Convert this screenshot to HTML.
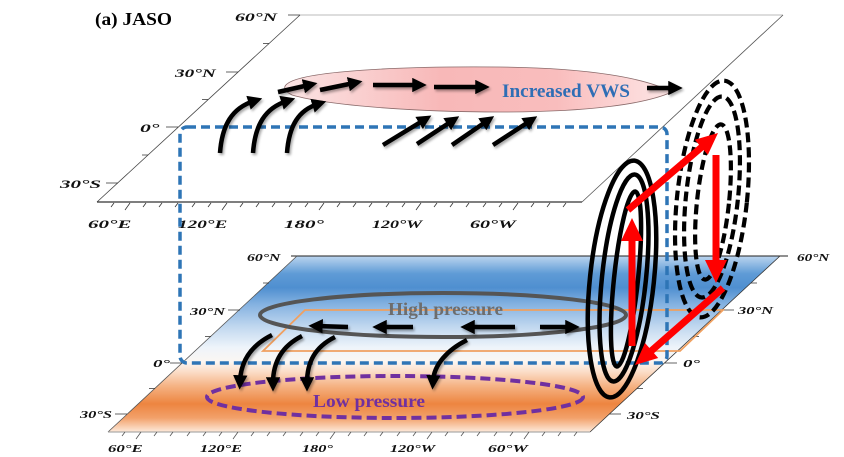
<!DOCTYPE html>
<html><head><meta charset="utf-8"><style>
html,body{margin:0;padding:0;background:#fff;}
svg{display:block;}
.ax{font-family:"Liberation Serif",serif;font-weight:bold;font-style:italic;fill:#111;}
.lb{font-family:"Liberation Serif",serif;font-weight:bold;}
</style></head><body>
<svg width="844" height="457" viewBox="0 0 844 457" xmlns="http://www.w3.org/2000/svg">
<defs>
<linearGradient id="bg" x1="0" y1="256" x2="0" y2="432" gradientUnits="userSpaceOnUse">
<stop offset="0" stop-color="#bcd5ef"/>
<stop offset="0.1" stop-color="#5f9bd6"/>
<stop offset="0.18" stop-color="#4f8fd0"/>
<stop offset="0.27" stop-color="#82b0e0"/>
<stop offset="0.4" stop-color="#c0d7ef"/>
<stop offset="0.52" stop-color="#eef4fa"/>
<stop offset="0.6" stop-color="#fbf6f2"/>
<stop offset="0.66" stop-color="#fbdcc6"/>
<stop offset="0.74" stop-color="#f5b283"/>
<stop offset="0.84" stop-color="#ed8540"/>
<stop offset="0.92" stop-color="#f2a16a"/>
<stop offset="1" stop-color="#fdeadb"/>
</linearGradient>
<linearGradient id="pk" x1="287" y1="0" x2="672" y2="0" gradientUnits="userSpaceOnUse">
<stop offset="0" stop-color="#fbe4e4"/>
<stop offset="0.4" stop-color="#f8b8b8"/>
<stop offset="0.7" stop-color="#f9bdbd"/>
<stop offset="1" stop-color="#fde6e6"/>
</linearGradient>
<filter id="sh" x="-30%" y="-30%" width="160%" height="160%">
<feDropShadow dx="1.5" dy="2" stdDeviation="1.2" flood-color="#000" flood-opacity="0.35"/>
</filter>
<marker id="a" viewBox="0 0 10 10" refX="4" refY="5" markerWidth="3.2" markerHeight="3.2" orient="auto" markerUnits="strokeWidth">
<path d="M0,0 L10,5 L0,10 z" fill="#000"/>
</marker>
</defs>

<!-- title -->
<text x="95" y="25" class="lb" font-size="18" textLength="77" lengthAdjust="spacingAndGlyphs" fill="#000">(a) JASO</text>

<!-- TOP PLANE -->
<polygon points="300,15 783,15 582,202 97,202" fill="#fff"/>
<line x1="300" y1="15" x2="783" y2="15" stroke="#bbb" stroke-width="1"/>
<line x1="97" y1="202" x2="300" y2="15" stroke="#444" stroke-width="0.8"/>
<line x1="582" y1="202" x2="783" y2="15" stroke="#555" stroke-width="0.8"/>
<line x1="97" y1="202" x2="582" y2="202" stroke="#333" stroke-width="1.2"/>
<path d="M111,207L114,203 M143,207L146,203 M159,207L162,203 M175,207L178,203 M192,207L195,203 M208,207L211,203 M240,207L243,203 M256,207L259,203 M272,207L275,203 M289,207L292,203 M305,207L308,203 M337,207L340,203 M353,207L356,203 M369,207L372,203 M386,207L389,203 M402,207L405,203 M434,207L437,203 M450,207L453,203 M466,207L469,203 M483,207L486,203 M499,207L502,203 M531,207L534,203 M547,207L550,203 M563,207L566,203 M125,210L130,203 M222,210L227,203 M319,210L324,203 M416,210L421,203 M513,210L518,203" stroke="#333" stroke-width="0.8" fill="none"/>
<path d="M288,15H300 M226,72H238 M166,127H178 M106,183H118 M263,43.5H269 M202,99.5H208 M142,155H148" stroke="#333" stroke-width="0.8" fill="none"/>

<text class="ax" font-size="12" transform="matrix(1.65 0 0 1 235 21)">60°N</text>
<text class="ax" font-size="12" transform="matrix(1.6 0 0 1 175 77)">30°N</text>
<text class="ax" font-size="12" transform="matrix(1.8 0 0 1 140 132)">0°</text>
<text class="ax" font-size="12" transform="matrix(1.75 0 0 1 60 188)">30°S</text>
<text class="ax" font-size="12" transform="matrix(1.75 0 0 1 88 228)">60°E</text>
<text class="ax" font-size="12" transform="matrix(1.6 0 0 1 178 228)">120°E</text>
<text class="ax" font-size="12" transform="matrix(1.75 0 0 1 284 228)">180°</text>
<text class="ax" font-size="12" transform="matrix(1.5 0 0 1 372 228)">120°W</text>
<text class="ax" font-size="12" transform="matrix(1.67 0 0 1 470 228)">60°W</text>

<!-- pink ellipse -->
<path d="M287,84 C302,71 400,66 500,67 C590,68 645,78 672,92 C645,104 590,112 500,112 C420,112 330,106 292,95 C284,91 283,87 287,84 Z" fill="url(#pk)" stroke="#8a6a6a" stroke-width="0.8"/>
<text x="502" y="97" class="lb" font-size="19" textLength="128" lengthAdjust="spacingAndGlyphs" fill="#2f6eb5">Increased VWS</text>

<!-- BOTTOM PLANE -->
<polygon points="297,256 780,256 590,432 108,432" fill="url(#bg)"/>
<line x1="291" y1="256" x2="788" y2="256" stroke="#222" stroke-width="1"/>
<line x1="108" y1="432" x2="297" y2="256" stroke="#555" stroke-width="0.8"/>
<line x1="590" y1="432" x2="780" y2="256" stroke="#333" stroke-width="0.8"/>
<line x1="108" y1="432" x2="590" y2="432" stroke="#999" stroke-width="1"/>
<path d="M122,436L125,432 M154,436L157,432 M170,436L173,432 M187,436L190,432 M203,436L206,432 M219,436L222,432 M251,436L254,432 M267,436L270,432 M283,436L286,432 M300,436L303,432 M316,436L319,432 M348,436L351,432 M364,436L367,432 M380,436L383,432 M397,436L400,432 M413,436L416,432 M445,436L448,432 M461,436L464,432 M477,436L480,432 M494,436L497,432 M510,436L513,432 M542,436L545,432 M558,436L561,432 M574,436L577,432 M136,439L141,432 M233,439L238,432 M330,439L335,432 M427,439L432,432 M524,439L529,432" stroke="#555" stroke-width="0.8" fill="none"/>
<path d="M228,310H240 M170,363H182 M115,414H127 M263,283H269 M205,336.5H211 M149,388.5H155 M722,310H734 M665,363H677 M609,414H621 M751,283H757 M693,336.5H699 M637,388.5H643" stroke="#333" stroke-width="0.8" fill="none"/>

<text class="ax" font-size="10.5" transform="matrix(1.5 0 0 1 247 261)">60°N</text>
<text class="ax" font-size="10.5" transform="matrix(1.57 0 0 1 190 315)">30°N</text>
<text class="ax" font-size="10.5" transform="matrix(1.8 0 0 1 153 367)">0°</text>
<text class="ax" font-size="10.5" transform="matrix(1.56 0 0 1 80 418)">30°S</text>
<text class="ax" font-size="10.5" transform="matrix(1.6 0 0 1 108 452)">60°E</text>
<text class="ax" font-size="10.5" transform="matrix(1.56 0 0 1 200 452)">120°E</text>
<text class="ax" font-size="10.5" transform="matrix(1.55 0 0 1 302 452)">180°</text>
<text class="ax" font-size="10.5" transform="matrix(1.54 0 0 1 390 452)">120°W</text>
<text class="ax" font-size="10.5" transform="matrix(1.66 0 0 1 488 452)">60°W</text>
<text class="ax" font-size="10.5" transform="matrix(1.45 0 0 1 797 261)">60°N</text>
<text class="ax" font-size="10.5" transform="matrix(1.57 0 0 1 738 314)">30°N</text>
<text class="ax" font-size="10.5" transform="matrix(1.8 0 0 1 683 367)">0°</text>
<text class="ax" font-size="10.5" transform="matrix(1.6 0 0 1 627 419)">30°S</text>

<!-- orange parallelogram -->
<polygon points="305,310 723,310 680,351 263,351" fill="none" stroke="#f0a060" stroke-width="1.8"/>

<!-- high pressure ellipse -->
<ellipse cx="443" cy="315" rx="183" ry="22" fill="none" stroke="#555" stroke-width="4"/>
<text x="388" y="315" class="lb" font-size="18" textLength="115" lengthAdjust="spacingAndGlyphs" fill="#6d6d6d">High pressure</text>

<!-- low pressure ellipse -->
<ellipse cx="395" cy="397" rx="188" ry="21" fill="none" stroke="#7030a0" stroke-width="4" stroke-dasharray="10 5"/>
<text x="313" y="407" class="lb" font-size="18" textLength="112" lengthAdjust="spacingAndGlyphs" fill="#7030a0">Low pressure</text>

<!-- blue dashed rectangle -->
<rect x="180" y="127" width="487" height="236" rx="7" fill="none" stroke="#2e75b6" stroke-width="3.5" stroke-dasharray="9 5"/>

<!-- black arrows -->
<g stroke="#000" stroke-width="4.5" fill="none" marker-end="url(#a)" filter="url(#sh)">
<line x1="278" y1="92" x2="309" y2="85"/>
<line x1="320" y1="90" x2="354" y2="83"/>
<line x1="373" y1="85" x2="418" y2="85"/>
<line x1="434" y1="87" x2="481" y2="87"/>
<line x1="647" y1="88" x2="674" y2="88"/>
<path d="M220,153 C222,125 232,108 254,101"/>
<path d="M253,153 C255,125 265,108 287,101"/>
<path d="M287,153 C289,125 299,110 318,104"/>
<line x1="383" y1="145" x2="424" y2="120"/>
<line x1="417" y1="144" x2="452" y2="121"/>
<line x1="452" y1="145" x2="487" y2="121"/>
<line x1="493" y1="145" x2="530" y2="121"/>
<line x1="348" y1="327" x2="317" y2="326"/>
<line x1="413" y1="327" x2="381" y2="327"/>
<line x1="515" y1="327" x2="469" y2="327"/>
<line x1="540" y1="327" x2="571" y2="327"/>
<path d="M272,335 C252,345 241,360 240,381"/>
<path d="M302,336 C282,346 273,362 273,383"/>
<path d="M335,337 C315,347 307,362 307,383"/>
<path d="M467,340 C447,350 434,365 433,381"/>
</g>

<!-- solid loops -->
<g fill="none" stroke="#000" stroke-width="4.5">
<ellipse cx="622" cy="279" rx="32" ry="119" transform="rotate(6 622 279)"/>
<ellipse cx="624" cy="278" rx="22" ry="104" transform="rotate(6 624 278)"/>
<ellipse cx="626" cy="279" rx="12" ry="88" transform="rotate(6 626 279)"/>
</g>
<!-- dashed loops -->
<g fill="none" stroke="#000" stroke-width="4.2" stroke-dasharray="10 5">
<ellipse cx="712" cy="199" rx="35" ry="119" transform="rotate(6 712 199)"/>
<ellipse cx="712" cy="197" rx="26" ry="101" transform="rotate(6 712 197)"/>
<ellipse cx="713" cy="202" rx="16" ry="78" transform="rotate(6 713 202)"/>
</g>

<!-- red arrows -->
<g fill="#ff0000" stroke="none">
<rect x="628.5" y="238" width="7" height="108"/>
<polygon points="632,218 643,241 621,241"/>
<rect x="712.5" y="155" width="7" height="108"/>
<polygon points="716,283 705,260 727,260"/>
<polygon points="718,133 707.8,154.9 694.8,139.7"/>
<polygon points="635,365 658.2,358 645,343"/>
</g>
<g stroke="#ff0000" stroke-width="7" fill="none">
<line x1="628" y1="210" x2="703" y2="146"/>
<line x1="723" y1="288" x2="650" y2="352"/>
</g>
</svg>
</body></html>
